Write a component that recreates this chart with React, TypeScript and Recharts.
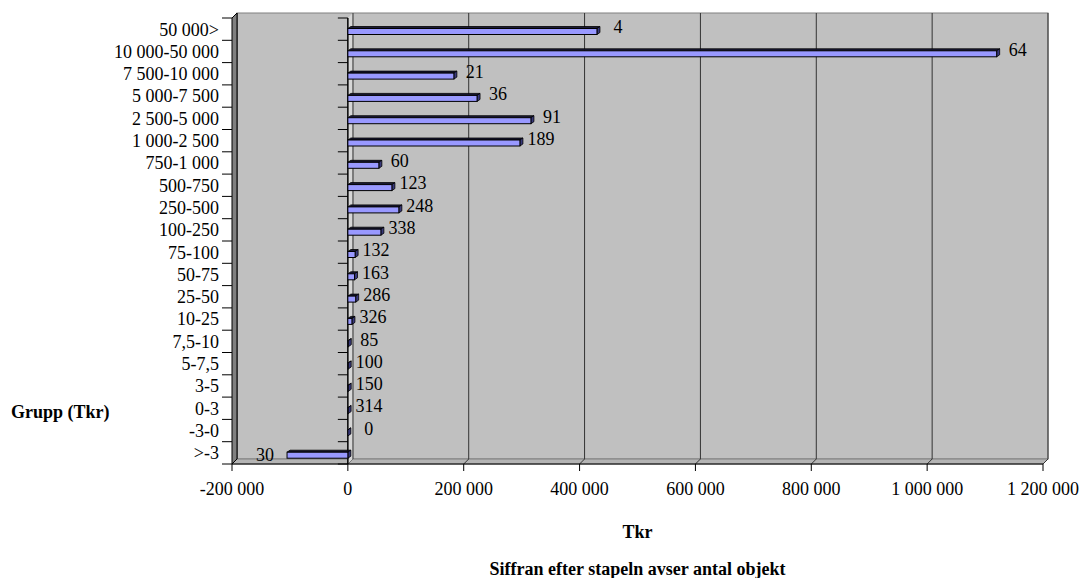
import React from 'react';
import { BarChart, Bar, XAxis, YAxis, ReferenceArea, LabelList } from 'recharts';

// Grupper (Tkr), uppifrån och ned
const groups = [
  '50 000>', '10 000-50 000', '7 500-10 000', '5 000-7 500', '2 500-5 000',
  '1 000-2 500', '750-1 000', '500-750', '250-500', '100-250',
  '75-100', '50-75', '25-50', '10-25', '7,5-10',
  '5-7,5', '3-5', '0-3', '-3-0', '>-3',
];

// Summa per grupp, Tkr
const totals = [
  430000, 1120000, 183000, 223000, 316000,
  297000, 53500, 76000, 88000, 57000,
  12500, 11500, 13500, 7000, 750,
  620, 600, 450, 0, -105000,
];

// Antal objekt per grupp (siffran efter stapeln)
const counts = [
  4, 64, 21, 36, 91,
  189, 60, 123, 248, 338,
  132, 163, 286, 326, 85,
  100, 150, 314, 0, 30,
];

const xTicks = [-200000, 0, 200000, 400000, 600000, 800000, 1000000, 1200000];

const rows = groups.map((name, i) => ({ name, total: totals[i], count: counts[i] }));

const FONT = '"Liberation Serif", "Times New Roman", serif';
const X_MIN = xTicks[0];
const X_MAX = xTicks[xTicks.length - 1];
const DEPTH = 5;

const fmt = (v: number) => {
  const s = Math.abs(v).toString().replace(/\B(?=(\d{3})+(?!\d))/g, ' ');
  return (v < 0 ? '-' : '') + s;
};

// back wall, side wall, floor, gridlines and the zero plane
const Walls = (props: any) => {
  const { x, y, width, height } = props;
  const L = x;
  const R = x + width;
  const T = y;
  const B = y + height;
  const px = (v: number) => L + (width * (v - X_MIN)) / (X_MAX - X_MIN);
  const x0 = px(0);
  const band = height / groups.length;
  const bounds = Array.from({ length: groups.length + 1 }, (_, k) => T + band * k);
  return (
    <g>
      <rect x={L + DEPTH} y={T - DEPTH} width={width} height={height} fill="#c0c0c0" stroke="#808080" />
      <polygon
        points={`${L},${B} ${L + DEPTH},${B - DEPTH} ${R + DEPTH},${B - DEPTH} ${R},${B}`}
        fill="#b4b4b4"
        stroke="#808080"
      />
      {xTicks.map((t) => {
        const gx = px(t);
        return (
          <g key={t}>
            <line x1={gx + DEPTH} y1={T - DEPTH} x2={gx + DEPTH} y2={B - DEPTH} stroke="#333" strokeWidth={1} />
            <line x1={gx} y1={B} x2={gx + DEPTH} y2={B - DEPTH} stroke="#333" strokeWidth={1} />
          </g>
        );
      })}
      <polygon
        points={`${L},${B} ${L},${T} ${L + DEPTH},${T - DEPTH} ${L + DEPTH},${B - DEPTH}`}
        fill="#808080"
        stroke="#000"
        strokeWidth={1}
      />
      <polygon
        points={`${x0},${B} ${x0},${T} ${x0 + DEPTH},${T - DEPTH} ${x0 + DEPTH},${B - DEPTH}`}
        fill="#d6d6d6"
        stroke="none"
      />
      <line x1={x0 + DEPTH} y1={T - DEPTH} x2={x0 + DEPTH} y2={B - DEPTH} stroke="#555" />
      <line x1={x0} y1={T} x2={x0} y2={B} stroke="#000" strokeWidth={1.5} />
      {bounds.map((by, k) => (
        <g key={k}>
          <line x1={L - 10} y1={by} x2={L} y2={by} stroke="#000" />
          <line x1={x0 - 10} y1={by} x2={x0} y2={by} stroke="#000" />
        </g>
      ))}
    </g>
  );
};

// 3D bar: dark top, dark right side, lavender front
const Bar3D = (props: any) => {
  const { x, y, width, height } = props;
  const left = Math.min(x, x + width);
  const right = Math.max(x, x + width);
  const fy = y + 2.5;
  const fh = height;
  const dx = 3;
  const dy = 2;
  return (
    <g>
      <polygon
        points={`${left},${fy} ${left + dx},${fy - dy} ${right + dx},${fy - dy} ${right},${fy}`}
        fill="#1a1a36"
        stroke="#000"
        strokeWidth={0.8}
      />
      <polygon
        points={`${right},${fy} ${right + dx},${fy - dy} ${right + dx},${fy + fh - dy} ${right},${fy + fh}`}
        fill="#38387a"
        stroke="#000"
        strokeWidth={0.8}
      />
      <rect x={left} y={fy} width={right - left} height={fh} fill="#9999ff" stroke="#000" strokeWidth={1} />
    </g>
  );
};

const CountLabel = (props: any) => {
  const { x, y, width, height, value, index } = props;
  const left = Math.min(x, x + width);
  const right = Math.max(x, x + width);
  const neg = totals[index] < 0;
  const cy = y + height / 2 + (neg ? 2 : -2);
  const tx = neg ? left - 22 : right + 21;
  return (
    <text x={tx} y={cy} dy="0.35em" textAnchor="middle" fontFamily={FONT} fontSize={18} fill="#000">
      {value}
    </text>
  );
};

const XTitles = (props: any) => {
  const { x, y, width } = props.viewBox;
  const cx = x + width / 2;
  return (
    <g fontFamily={FONT} fontSize={18} fontWeight="bold" fill="#000">
      <text x={cx} y={y + 68} dy="0.35em" textAnchor="middle">Tkr</text>
      <text x={cx} y={y + 105} dy="0.35em" textAnchor="middle">Siffran efter stapeln avser antal objekt</text>
    </g>
  );
};

const YTitle = (props: any) => {
  const { x, y } = props.viewBox;
  return (
    <text x={x + 11} y={y + 394} dy="0.35em" fontFamily={FONT} fontSize={18} fontWeight="bold" fill="#000">
      Grupp (Tkr)
    </text>
  );
};

export default function App() {
  return (
    <div style={{ position: 'absolute', left: 0, top: 0, width: 1080, height: 578, background: '#fff', fontFamily: FONT }}>
      <BarChart
        width={1080}
        height={578}
        data={rows}
        layout="vertical"
        margin={{ top: 18, right: 37, bottom: 84, left: 0 }}
      >
        <XAxis
          type="number"
          dataKey="total"
          domain={[X_MIN, X_MAX]}
          ticks={xTicks}
          tickFormatter={fmt}
          height={30}
          tickSize={7}
          tickMargin={11}
          stroke="#000"
          tick={{ fill: '#000', fontSize: 18, fontFamily: FONT }}
          label={XTitles}
        />
        <YAxis
          type="category"
          dataKey="name"
          width={232}
          interval={0}
          axisLine={false}
          tickLine={false}
          tickSize={10}
          tickMargin={3}
          tick={{ fill: '#000', fontSize: 18, fontFamily: FONT }}
          label={YTitle}
        />
        <ReferenceArea x1={X_MIN} x2={X_MAX} ifOverflow="visible" shape={Walls} />
        <Bar dataKey="total" barSize={6} shape={Bar3D} isAnimationActive={false}>
          <LabelList dataKey="count" content={CountLabel} />
        </Bar>
      </BarChart>
    </div>
  );
}
